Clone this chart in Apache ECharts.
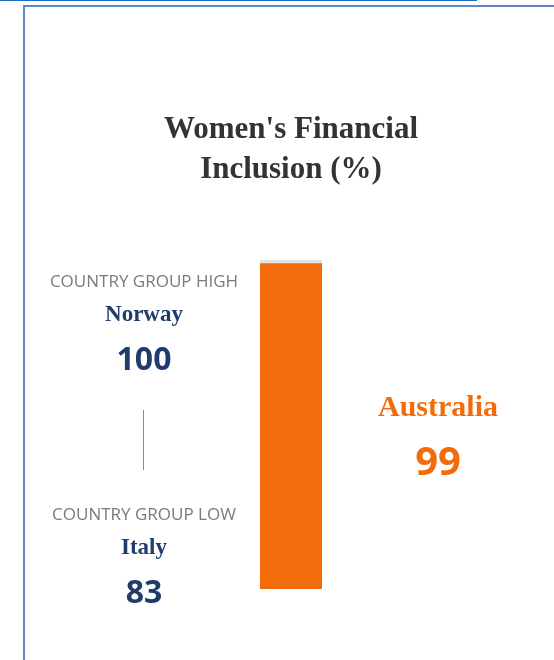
<!DOCTYPE html>
<html>
<head>
<meta charset="utf-8">
<script src="https://cdn.jsdelivr.net/npm/echarts@6/dist/echarts.min.js"></script>
<style>
    html, body {
        margin: 0;
        padding: 0;
        background: #fff;
    }
    .top-rule {
        position: absolute;
        left: 0;
        top: 0;
        width: 477px;
        height: 1px;
        background: #1f6fbf;
    }
    .frame {
        position: absolute;
        left: 23px;
        top: 5px;
        width: 531px;
        height: 655px;
        border-left: 2px solid #5a88c4;
        border-top: 2px solid #5a88c4;
        box-sizing: border-box;
    }
    #myChart {
        position: absolute;
        left: 0;
        top: 0;
        width: 554px;
        height: 660px;
    }
</style>
</head>
<body>
<div class="top-rule"></div>
<div class="frame"></div>
<div id="myChart"></div>
<script>
    // 数据
    const chartTitle = ['Women\'s Financial', 'Inclusion (%)']
    const groupLabels = ['COUNTRY GROUP HIGH', 'COUNTRY GROUP LOW']
    const groupCountries = ['Norway', 'Italy']
    const groupValues = [100, 83]
    const countries = ['Australia']
    const values = [99]
    const maxValue = 100

    const serif = '"Liberation Serif", "DejaVu Serif", serif'
    const sans = '"Open Sans", "Noto Sans", sans-serif'
    const navy = '#1f3c6c'
    const orange = '#f36c0c'

    let MyChart = echarts.init(document.getElementById('myChart'))

    // 生成文字元素
    function label(text, x, y, font, fill) {
        return {
            type: 'text',
            style: {
                text: text, x: x, y: y,
                textAlign: 'center', textVerticalAlign: 'middle',
                font: font, fill: fill
            }
        }
    }

    let graphic = []
    // 标题
    chartTitle.forEach(function (line, i) {
        graphic.push(label(line, 291, 130 + i * 40, 'bold 31px ' + serif, '#333'))
    })
    // 左侧组高低
    let ys = [282, 515]
    for (let i = 0; i < groupLabels.length; i++) {
        let y0 = ys[i]
        graphic.push(label(groupLabels[i], 144, y0, '17px ' + sans, '#7a7a7a'))
        graphic.push(label(groupCountries[i], 144, y0 + 33, 'bold 23px ' + serif, navy))
        graphic.push(label(String(groupValues[i]), 144, y0 + 79, 'bold 32px ' + sans, navy))
    }
    // 中间竖线
    graphic.push({
        type: 'line',
        shape: {x1: 143.5, y1: 410, x2: 143.5, y2: 470},
        style: {stroke: '#8a8a8a', lineWidth: 1}
    })
    // 右侧国家
    graphic.push(label(countries[0], 438, 408, 'bold 30px ' + serif, orange))
    graphic.push(label(String(values[0]), 438, 464, 'bold 40px ' + sans, orange))

    let option = {
        animation: false,
        grid: {
            left: 260,
            top: 260,
            width: 62,
            height: 329
        },
        xAxis: {
            type: 'category',
            data: countries,
            show: false
        },
        yAxis: {
            type: 'value',
            min: 0,
            max: maxValue,
            show: false
        },
        series: [{
            type: 'bar',
            data: values,
            barWidth: '100%',
            showBackground: true,
            backgroundStyle: {
                color: '#e2e2e2'
            },
            itemStyle: {
                color: orange
            }
        }],
        graphic: graphic
    }
    MyChart.setOption(option)
</script>
</body>
</html>
